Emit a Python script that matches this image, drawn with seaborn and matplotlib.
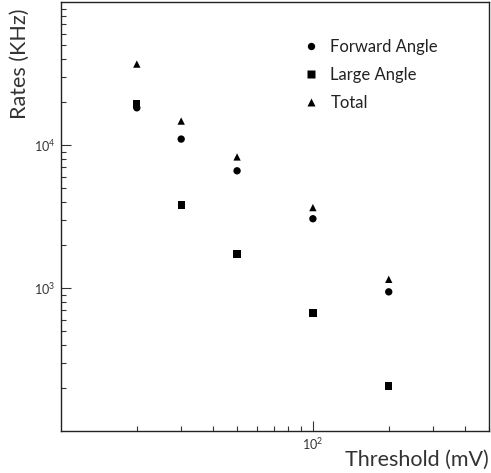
import pandas as pd
import seaborn as sns
import matplotlib.pyplot as plt
from matplotlib.ticker import FixedLocator, LogLocator, LogFormatterMathtext, NullFormatter

threshold = [20, 30, 50, 100, 200]
forward_angle = [18200, 11000, 6600, 3050, 940]
large_angle = [19400, 3800, 1730, 670, 206]
total = [36800, 14700, 8250, 3650, 1150]

series = ["Forward Angle", "Large Angle", "Total"]

df = pd.DataFrame({
    "Threshold": threshold * 3,
    "Rate": forward_angle + large_angle + total,
    "Series": [s for s in series for _ in threshold],
})

sns.set_style("ticks")
plt.rcParams["font.family"] = ["Lato", "DejaVu Sans"]

fig = plt.figure(figsize=(4.91, 4.73), dpi=100)
ax = fig.add_axes([0.1242, 0.0888, 0.8717, 0.907])

sns.scatterplot(data=df, x="Threshold", y="Rate", style="Series",
                markers={"Forward Angle": "o", "Large Angle": "s", "Total": "^"},
                color="black", s=28, edgecolor="none", ax=ax)

ax.set_xscale("log")
ax.set_yscale("log")
ax.set_xlim(10, 500)
ax.set_ylim(100, 1e5)

# ROOT-like ticks: inside, only on left and bottom
ax.tick_params(which="both", direction="in", top=False, right=False,
               color="#333333", width=0.8, labelcolor="#333333")
ax.tick_params(which="major", length=7, labelsize=9, pad=4)
ax.tick_params(which="minor", length=3.5)
ax.xaxis.set_major_locator(FixedLocator([100]))
ax.yaxis.set_major_locator(FixedLocator([1e3, 1e4]))
ax.xaxis.set_minor_locator(LogLocator(base=10, subs=range(2, 10), numticks=20))
ax.yaxis.set_minor_locator(LogLocator(base=10, subs=range(2, 10), numticks=20))
ax.xaxis.set_major_formatter(LogFormatterMathtext())
ax.yaxis.set_major_formatter(LogFormatterMathtext())
ax.xaxis.set_minor_formatter(NullFormatter())
ax.yaxis.set_minor_formatter(NullFormatter())

for side in ax.spines.values():
    side.set_linewidth(1.0)
    side.set_color("#222222")

ax.set_xlabel("")
ax.set_ylabel("")
fig.text(489 / 491, 1 - 460 / 473, "Threshold (mV)", fontsize=15.5,
         color="#333333", ha="right", va="center")
fig.text(20 / 491, 1 - 64 / 473, "Rates (KHz)", fontsize=15.5,
         color="#333333", ha="center", va="center", rotation=90)

leg = ax.legend(loc="upper left", bbox_to_anchor=(0.53, 0.949), frameon=False,
                fontsize=12, labelspacing=0.73, handletextpad=0.66,
                handlelength=1.0, markerscale=1.0, title=None)
for t in leg.get_texts():
    t.set_color("#222222")

fig.savefig("out.png", dpi=100)
